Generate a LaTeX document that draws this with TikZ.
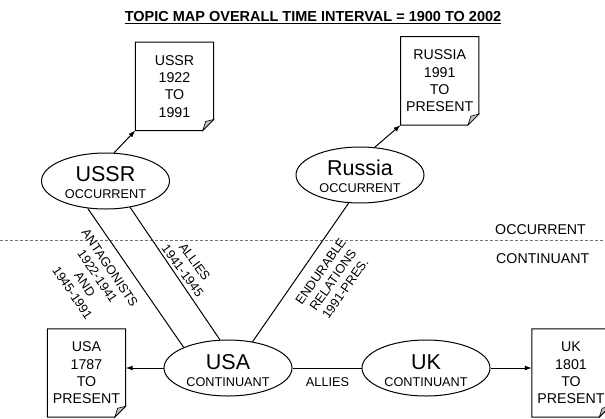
\documentclass[tikz,border=0pt]{standalone}
\usepackage{fontspec}
\setmainfont{Liberation Sans}
\usetikzlibrary{shapes.geometric,arrows.meta,calc}

\newcommand\fsmall{\fontsize{12.7}{15}\selectfont}
\newcommand\fdoc{\fontsize{14.2}{17.3}\selectfont}
\newcommand\fbig{\fontsize{21.5}{24}\selectfont}
\newcommand\ftitle{\fontsize{14.5}{17}\selectfont\bfseries}

\newcommand\docframe[1]{%
  \draw[line width=1pt] (#1.north west) -- (#1.north east) -- ([yshift=11pt]#1.south east) -- ([xshift=-11pt]#1.south east) -- (#1.south west) -- cycle;
  \filldraw[fill=black!25,line width=0.6pt] ([yshift=11pt]#1.south east) -- ([xshift=-11pt]#1.south east) -- ([xshift=-8pt,yshift=9pt]#1.south east) -- cycle;}

\begin{document}
\begin{tikzpicture}[x=1pt,y=-1pt,
  topic/.style={ellipse,draw,line width=1pt,minimum width=128pt,minimum height=56pt,inner sep=0pt},
  bigtxt/.style={font=\fbig,inner sep=0pt},
  smalltxt/.style={font=\fsmall,inner sep=0pt},
  doctxt/.style={font=\fdoc,align=center,inner sep=0pt,minimum width=78pt,minimum height=88pt},
  rel/.style={line width=1pt},
  arr/.style={line width=1pt,-{Latex[length=7pt,width=5pt]}},
  lbl/.style={font=\fsmall,align=center,inner sep=0pt},
  zone/.style={font=\fdoc,anchor=west,inner sep=0pt},
  divider/.style={draw=black!55,line width=1pt,dash pattern=on 3pt off 2pt},
  ]
\useasboundingbox (0,0) rectangle (605,418);

% title
\node[font=\ftitle,inner sep=0pt] (title) at (313,16.7) {TOPIC MAP OVERALL TIME INTERVAL = 1900 TO 2002};
\draw[line width=1.2pt] ([yshift=-1.6pt]title.base west) -- ([yshift=-1.6pt]title.base east);

% documents
\node[doctxt] (ussrdoc) at (174.5,86.3) {USSR\\1922\\TO\\1991};
\node[doctxt] (russiadoc) at (439.7,80.9) {RUSSIA\\1991\\TO\\PRESENT};
\node[doctxt] (usadoc) at (86.5,373) {USA\\1787\\TO\\PRESENT};
\node[doctxt] (ukdoc) at (571,373) {UK\\1801\\TO\\PRESENT};
\docframe{ussrdoc}
\docframe{russiadoc}
\docframe{usadoc}
\docframe{ukdoc}

% topics
\node[topic] (ussr) at (105.5,181) {};
\node[bigtxt] (ussrname) at ($(ussr)+(0,-7)$) {USSR};
\node[smalltxt] (ussrkind) at ($(ussr)+(0,13)$) {OCCURRENT};

\node[topic] (russia) at (360,175) {};
\node[bigtxt] (russianame) at ($(russia)+(0,-7)$) {Russia};
\node[smalltxt] (russiakind) at ($(russia)+(0,13)$) {OCCURRENT};

\node[topic] (usa) at (228,368) {};
\node[bigtxt] (usaname) at ($(usa)+(0,-6)$) {USA};
\node[smalltxt] (usakind) at ($(usa)+(0,14)$) {CONTINUANT};

\node[topic] (uk) at (426,368) {};
\node[bigtxt] (ukname) at ($(uk)+(0,-6)$) {UK};
\node[smalltxt] (ukkind) at ($(uk)+(0,14)$) {CONTINUANT};

% divider
\coordinate (dashL) at (0,240.5);
\coordinate (dashR) at (605,240.5);
\draw[divider] (dashL) -- (dashR);
\node[zone] (occlbl) at (495,229.3) {OCCURRENT};
\node[zone] (contlbl) at (496,259) {CONTINUANT};

% connectors
\draw[arr] (ussr.73) -- (ussrdoc.south west);
\draw[arr] (russia.62) -- (russiadoc.south west);
\draw[arr] (usa.west) -- (usa.west -| usadoc.east);
\draw[arr] (uk.east) -- (uk.east -| ukdoc.west);
\draw[rel] (usa.east) -- (uk.west);
\draw[rel] (ussr.237) -- (usa.155);
\draw[rel] (ussr.313) -- (usa.106);
\draw[rel] (russia.248) -- (usa.47);

% relation labels
\node[lbl,rotate=-56] (antag) at (91.2,280.3) {ANTAGONISTS\\1922-1941\\AND\\1945-1991};
\node[lbl,rotate=-53.5] (allieswar) at (188.7,266.3) {ALLIES\\1941-1945};
\node[lbl,rotate=55] (endur) at (333,280) {ENDURABLE\\RELATIONS\\1991-PRES.};
\node[lbl] (alliesuk) at (327.5,382) {ALLIES};
\end{tikzpicture}
\end{document}
